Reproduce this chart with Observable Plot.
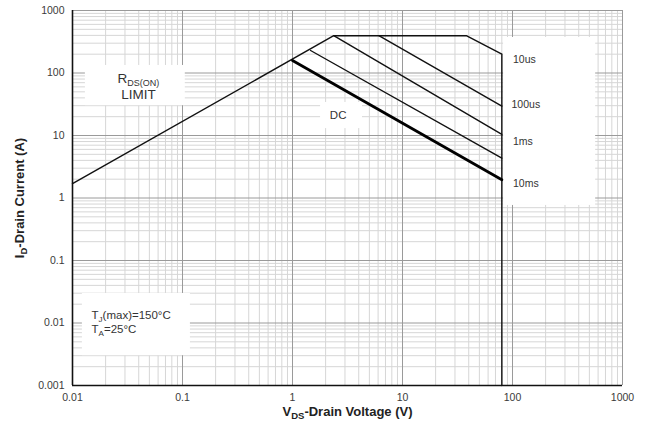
<!DOCTYPE html>
<html><head><meta charset="utf-8">
<script src="https://cdn.jsdelivr.net/npm/d3@7"></script>
<script src="https://cdn.jsdelivr.net/npm/@observablehq/plot@0.6"></script>
<style>body{margin:0;background:#fff;font-family:"Liberation Sans",Arial,sans-serif}</style>
</head><body><div id="chart"></div>
<script>
// Axis ticks
const xTicks = [0.01, 0.1, 1, 10, 100, 1000];
const xTickLabels = ["0.01", "0.1", "1", "10", "100", "1000"];
const yTicks = [0.001, 0.01, 0.1, 1, 10, 100, 1000];
const yTickLabels = ["0.001", "0.01", "0.1", "1", "10", "100", "1000"];

// SOA curves (V, A)
const env10usV = [0.01, 2.37, 38, 80, 80];
const env10usI = [1.7, 395, 395, 200, 0.001];
const l100usV = [6.1, 80];
const l100usI = [395, 29.4];
const l1msV = [2.37, 80];
const l1msI = [395, 10.4];
const l10msV = [1.46, 80];
const l10msI = [229, 4.33];
const dcV = [1.0, 80];
const dcI = [158, 1.96];

// Annotation labels
const pulseLabels = ["10us", "100us", "1ms", "10ms"];
const pulseLabelV = [101, 98, 101, 101];
const pulseLabelI = [164, 31.3, 8.0, 1.71];

const toPts = (V, I) => V.map((v, i) => ({v, i: I[i]}));

// grid lines (decades and their 2..9 multiples)
const minorX = [], minorY = [];
for (let e = -2; e < 3; e++) for (let k = 2; k < 10; k++) minorX.push(k * 10 ** e);
for (let e = -3; e < 3; e++) for (let k = 2; k < 10; k++) minorY.push(k * 10 ** e);

// white label boxes
const boxes = [
  {v1: 83, v2: 570, i1: 0.76, i2: 370},
  {v1: 0.0131, v2: 0.106, i1: 30, i2: 132},
  {v1: 1.8, v2: 4.33, i1: 12.9, i2: 33.7},
  {v1: 0.0123, v2: 0.118, i1: 0.003, i2: 0.0297}
];

const centerNotes = [
  {v: 0.0398, i: 81.7, t: "RDS(ON)", size: 13.5},
  {v: 0.0398, i: 45.3, t: "LIMIT", size: 13.5},
  {v: 2.6, i: 21.4, t: "DC", size: 11.5}
];
const tempNotes = [
  {v: 0.0149, i: 0.0132, t: "TJ(max)=150°C"},
  {v: 0.0149, i: 0.0078, t: "TA=25°C"}
];

const chart = Plot.plot({
  width: 652, height: 429,
  marginLeft: 72, marginRight: 30, marginTop: 10, marginBottom: 44,
  style: {fontFamily: "'Liberation Sans', Arial, sans-serif", fontSize: "10.5px", color: "#3a3a3a", background: "#fff"},
  x: {type: "log", domain: [0.01, 1000]},
  y: {type: "log", domain: [0.001, 1000]},
  marks: [
    Plot.ruleX(minorX, {stroke: "#d6d6d6", strokeWidth: 1}),
    Plot.ruleY(minorY, {stroke: "#d6d6d6", strokeWidth: 1}),
    Plot.ruleX(xTicks, {stroke: "#9a9a9a", strokeWidth: 1}),
    Plot.ruleY(yTicks, {stroke: "#9a9a9a", strokeWidth: 1}),
    Plot.rect(boxes, {x1: "v1", x2: "v2", y1: "i1", y2: "i2", fill: "#fff"}),
    Plot.ruleX([0.01], {stroke: "#111", strokeWidth: 1.6}),
    Plot.ruleY([0.001], {stroke: "#111", strokeWidth: 1.6}),
    Plot.line(toPts(env10usV, env10usI), {x: "v", y: "i", stroke: "#111", strokeWidth: 1.4}),
    Plot.line(toPts(l100usV, l100usI), {x: "v", y: "i", stroke: "#111", strokeWidth: 1.4}),
    Plot.line(toPts(l1msV, l1msI), {x: "v", y: "i", stroke: "#111", strokeWidth: 1.4}),
    Plot.line(toPts(l10msV, l10msI), {x: "v", y: "i", stroke: "#111", strokeWidth: 1.4}),
    Plot.line(toPts(dcV, dcI), {x: "v", y: "i", stroke: "#000", strokeWidth: 2.8}),
    Plot.text(pulseLabels, {x: (d, k) => pulseLabelV[k], y: (d, k) => pulseLabelI[k], text: d => d, textAnchor: "start", fontSize: 10.5, fill: "#333"}),
    Plot.text(centerNotes, {x: "v", y: "i", text: "t", fontSize: "size", textAnchor: "middle", fill: "#333"}),
    Plot.text(tempNotes, {x: "v", y: "i", text: "t", fontSize: 11.5, textAnchor: "start", fill: "#333"}),
    Plot.axisX({ticks: xTicks, tickFormat: d => xTickLabels[xTicks.indexOf(d)], tickSize: 0, tickPadding: 8,
      label: "VDS-Drain Voltage (V)", labelAnchor: "center", labelArrow: "none", labelOffset: 30}),
    Plot.axisY({ticks: yTicks, tickFormat: d => yTickLabels[yTicks.indexOf(d)], tickSize: 0, tickPadding: 8,
      label: "ID-Drain Current (A)", labelAnchor: "center", labelArrow: "none", labelOffset: 58})
  ]
});

const subs = {
  "RDS(ON)": 'R<tspan font-size="9" dy="3">DS(ON)</tspan>',
  "TJ(max)=150°C": 'T<tspan font-size="8" dy="3">J</tspan><tspan dy="-3">(max)=150°C</tspan>',
  "TA=25°C": 'T<tspan font-size="8" dy="3">A</tspan><tspan dy="-3">=25°C</tspan>',
  "VDS-Drain Voltage (V)": 'V<tspan font-size="9.5" dy="3">DS</tspan><tspan dy="-3">-Drain Voltage (V)</tspan>',
  "ID-Drain Current (A)": 'I<tspan font-size="9.5" dy="3">D</tspan><tspan dy="-3">-Drain Current (A)</tspan>'
};
chart.querySelectorAll("text").forEach(t => {
  const s = t.textContent;
  if (subs[s]) {
    t.innerHTML = subs[s];
    if (s.includes("Drain")) { t.setAttribute("font-weight", "bold"); t.setAttribute("font-size", "13"); t.setAttribute("fill", "#222"); }
  }
});
document.getElementById("chart").appendChild(chart);
</script></body></html>
